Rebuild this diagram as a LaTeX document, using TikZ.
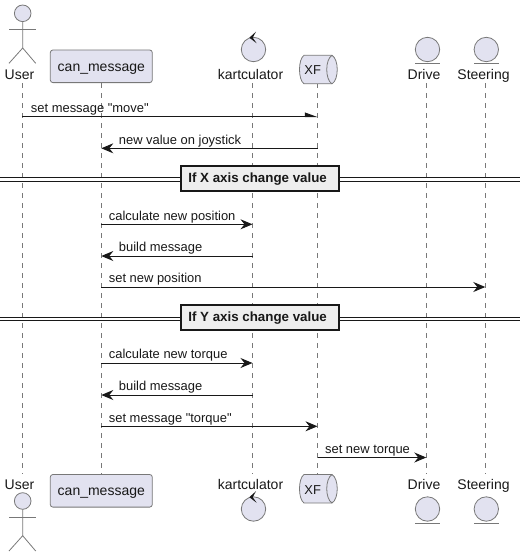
\documentclass[tikz,border=0pt]{standalone}
\usepackage{fontspec}
\setmainfont{Liberation Sans}[Ligatures=TeXOff]
\usepackage{xcolor}
\usetikzlibrary{arrows.meta}
\usetikzlibrary{math}
\definecolor{qfill}{RGB}{226,226,240}
\definecolor{qedge}{RGB}{120,120,120}
\definecolor{qdark}{RGB}{24,24,24}
\definecolor{qsep}{RGB}{238,238,238}
\tikzset{
part/.style={draw=qedge, fill=qfill, line width=0.6pt},
partline/.style={draw=qedge, line width=0.6pt},
lifeline/.style={draw=qedge, line width=0.5pt, dash pattern=on 3.75pt off 3.75pt},
msg/.style={draw=qdark, line width=0.75pt, -{Stealth[length=9pt,width=7.5pt,inset=3pt,color=qdark]}},
halfmsg/.style={draw=qdark, line width=0.75pt, -{Stealth[harpoon,length=8.5pt,width=6pt,inset=0pt,color=qdark]}},
msgtext/.style={anchor=base west, inner sep=0pt, font=\fontsize{9.7}{11}\selectfont, text=qdark},
parttext/.style={anchor=base, inner sep=0pt, font=\fontsize{10.5}{12}\selectfont, text=qdark},
septext/.style={draw=qdark, fill=qsep, line width=1.5pt, minimum width=118.5pt, minimum height=18.5pt, inner sep=0pt, font=\fontsize{10}{11}\bfseries\selectfont, text=qdark},
sepline/.style={draw=qdark, line width=0.75pt},
}

\begin{document}
\begin{tikzpicture}[x=0.75pt, y=-0.75pt]
\useasboundingbox (0,0) rectangle (526,557);

\tikzmath{
\Top = 83;
\Bot = 474;
}

% lifelines
\foreach \n/\x in {user/22.3,canmsg/101.3,kart/252.5,xf/317.5,drive/426.3,steer/485.3}{
\coordinate (\n) at (\x,0);
\coordinate (\n top) at (\x,\Top);
\coordinate (\n bot) at (\x,\Bot);
\draw [lifeline] (\n top) -- (\n bot);
}

% heads and feet
\foreach \s/\dy/\ly/\ty/\qy in {a/0/79.5/66.3/55.3, b/1/489.5/490.8/474.5}{
\node[parttext] (user\s) at (19.5,\ly) {User};
\node[part, minimum width=76.5pt, minimum height=24.5pt, inner sep=0pt, text height=7.5pt, text depth=0pt, rounded corners=2pt, font=\fontsize{10.5}{12}\selectfont, text=qdark] (canmsg\s) at (101.3,\ty) {can\_message};
\node[parttext] (kart\s) at (250.5,\ly) {kartculator};
\node[parttext] (drive\s) at (424,\ly) {Drive};
\node[parttext] (steer\s) at (483.5,\ly) {Steering};
\begin{scope}[yshift=-\dy*459.5*0.75pt]
\draw[part] (253.5,49.5) circle (12.2);
\fill[qdark] (249.3,37.7) -- (256,31.7) -- (252.7,37.7) -- (256.7,43.3) -- cycle;
\draw[part] (427.5,49.5) circle (12.2);
\draw[partline] (415.3,63.4) -- (439.7,63.4);
\draw[part] (486.3,49.5) circle (12.2);
\draw[partline] (474.1,63.4) -- (498.5,63.4);
\end{scope}
\begin{scope}[yshift=-\dy*487.7*0.75pt]
\draw[part] (22.7,13.3) circle (8.3);
\draw[partline] (22.7,21.6) -- (22.7,48) -- (9,63.3);
\draw[partline] (22.7,48) -- (35.7,63.3);
\draw[partline] (9,29.3) -- (35.7,29.3);
\end{scope}
\draw[part] (304,\qy) -- (332,\qy) .. controls (339,\qy+4) and (339,\qy+24.5) .. (332,\qy+28.5) -- (304,\qy+28.5) .. controls (298,\qy+24.5) and (298,\qy+4) .. (304,\qy) -- cycle;
\draw[partline] (332,\qy) .. controls (325,\qy+4) and (325,\qy+24.5) .. (332,\qy+28.5);
\node[parttext, font=\fontsize{9.7}{11}\selectfont] (xf\s) at (312.7,\qy+19.5) {XF};
}

% rows
\foreach \r/\y in {r1/116.5,r2/148.3,r3/224.3,r4/256,r5/287,r6/363,r7/395,r8/426.3,r9/457.5}{
\coordinate (\r) at (0,\y);
}

% first message only has a half tip
\draw [halfmsg] (user |- r1) -- (xf |- r1);
\node[msgtext] (m1) at (30.7,112) {set message "move"};

% to the right
\foreach \a/\b/\r/\t in {canmsg/kart/r3/calculate new position,canmsg/steer/r5/set new position,canmsg/kart/r6/calculate new torque,canmsg/xf/r8/set message "torque",xf/drive/r9/set new torque}{
\draw [msg] (\a |- \r) -- (\b |- \r);
\node[msgtext, xshift=5.5pt, yshift=3.2pt] (m\r) at (\a |- \r) {\t};
}

% to the left
\foreach \a/\b/\r/\t in {xf/canmsg/r2/new value on joystick,kart/canmsg/r4/build message,kart/canmsg/r7/build message}{
\draw [msg] (\a |- \r) -- (\b |- \r);
\node[msgtext, xshift=13pt, yshift=3.2pt] (m\r) at (\b |- \r) {\t};
}

% separators
\foreach \n/\y/\by/\t in {x/179.3/178.8/If X axis change value,y/319/317.7/If Y axis change value}{
\coordinate (\n l) at (0,\y);
\coordinate (\n r) at (520,\y);
\draw [sepline] ([yshift=1.3pt]\n l) -- ([yshift=1.3pt]\n r);
\draw [sepline] ([yshift=-1.3pt]\n l) -- ([yshift=-1.3pt]\n r);
\node[septext] (sep\n) at (260,\by) {\t\kern3.6pt};
}

\end{tikzpicture}
\end{document}
